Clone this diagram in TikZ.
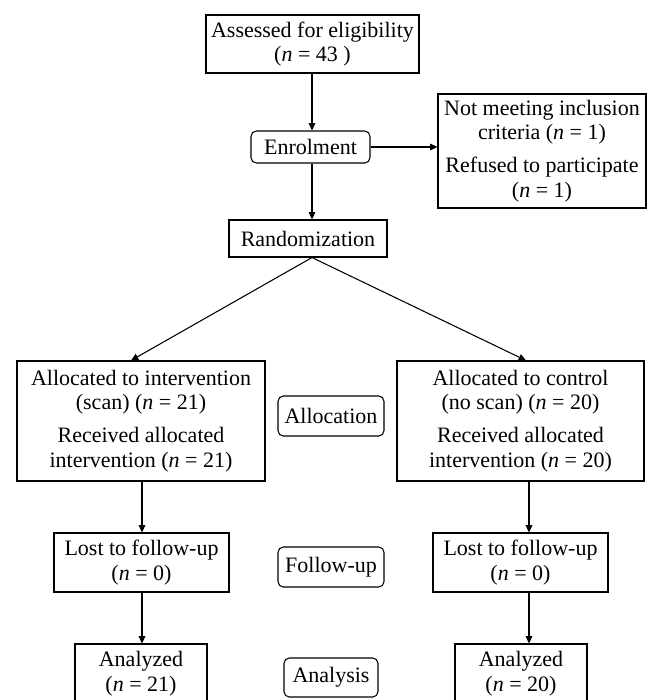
\documentclass[tikz,border=0pt]{standalone}
\usepackage{fontspec}
\setmainfont{Liberation Serif}
\usetikzlibrary{arrows.meta,calc}
\begin{document}
\begin{tikzpicture}[x=0.75pt,y=-0.75pt,
  every node/.style={font=\fontsize{16.5}{18.5}\selectfont, align=center, inner sep=0pt},
  sz/.style 2 args={minimum width=#1*0.75pt, minimum height=#2*0.75pt},
  box/.style={draw, line width=0.8pt},
  stage/.style={draw, rounded corners=4pt, line width=0.8pt},
  arr/.style={line width=0.8pt, -{Triangle[length=5.5pt,width=5pt]}},
]
\useasboundingbox (0,0) rectangle (655,700);
\clip (0,0) rectangle (655,700);

\node[box, sz={213}{58}] (assess) at (312.5,44) {Assessed for eligibility\\(\textit{n} = 43 )};
\node[stage, sz={119}{32}] (enrol) at (310.5,147) {Enrolment};
\node[box, sz={208}{114}] (excl) at (542,151) {Not meeting inclusion\\criteria (\textit{n} = 1)\\[6pt]Refused to participate\\(\textit{n} = 1)};
\node[box, sz={158}{37}] (rand) at (308,238.5) {Randomization};
\node[box, sz={248}{120}] (allocL) at (141,421) {Allocated to intervention\\(scan) (\textit{n} = 21)\\[6pt]Received allocated\\intervention (\textit{n} = 21)};
\node[box, sz={247}{120}] (allocR) at (520.5,421) {Allocated to control\\(no scan) (\textit{n} = 20)\\[6pt]Received allocated\\intervention (\textit{n} = 20)};
\node[stage, sz={106}{40}] (allocation) at (331,416) {Allocation};
\node[box, sz={175}{59}] (lostL) at (141.5,562.5) {Lost to follow-up\\(\textit{n} = 0)};
\node[box, sz={175}{59}] (lostR) at (520.5,562.5) {Lost to follow-up\\(\textit{n} = 0)};
\node[stage, sz={106}{40}] (follow) at (331,567) {Follow-up};
\node[box, sz={132}{60}] (anL) at (141,674) {Analyzed\\(\textit{n} = 21)};
\node[box, sz={132}{60}] (anR) at (521,674) {Analyzed\\(\textit{n} = 20)};
\node[stage, sz={94}{39}] (analysis) at (331,677.5) {Analysis};

\coordinate (colM) at (312,0);
\coordinate (colL) at (142,0);
\coordinate (colR) at (529,0);
\coordinate (tipL) at (131,0);
\coordinate (tipR) at (526,0);

\draw[arr] (assess.south -| colM) -- (enrol.north -| colM);
\draw[arr] (enrol.south -| colM) -- (rand.north -| colM);
\draw[arr] (enrol.east) -- (excl.west |- enrol.east);
\draw[arr] (rand.south -| colM) -- (allocL.north -| tipL);
\draw[arr] (rand.south -| colM) -- (allocR.north -| tipR);
\draw[arr] (allocL.south -| colL) -- (lostL.north -| colL);
\draw[arr] (lostL.south -| colL) -- (anL.north -| colL);
\draw[arr] (allocR.south -| colR) -- (lostR.north -| colR);
\draw[arr] (lostR.south -| colR) -- (anR.north -| colR);
\end{tikzpicture}
\end{document}
